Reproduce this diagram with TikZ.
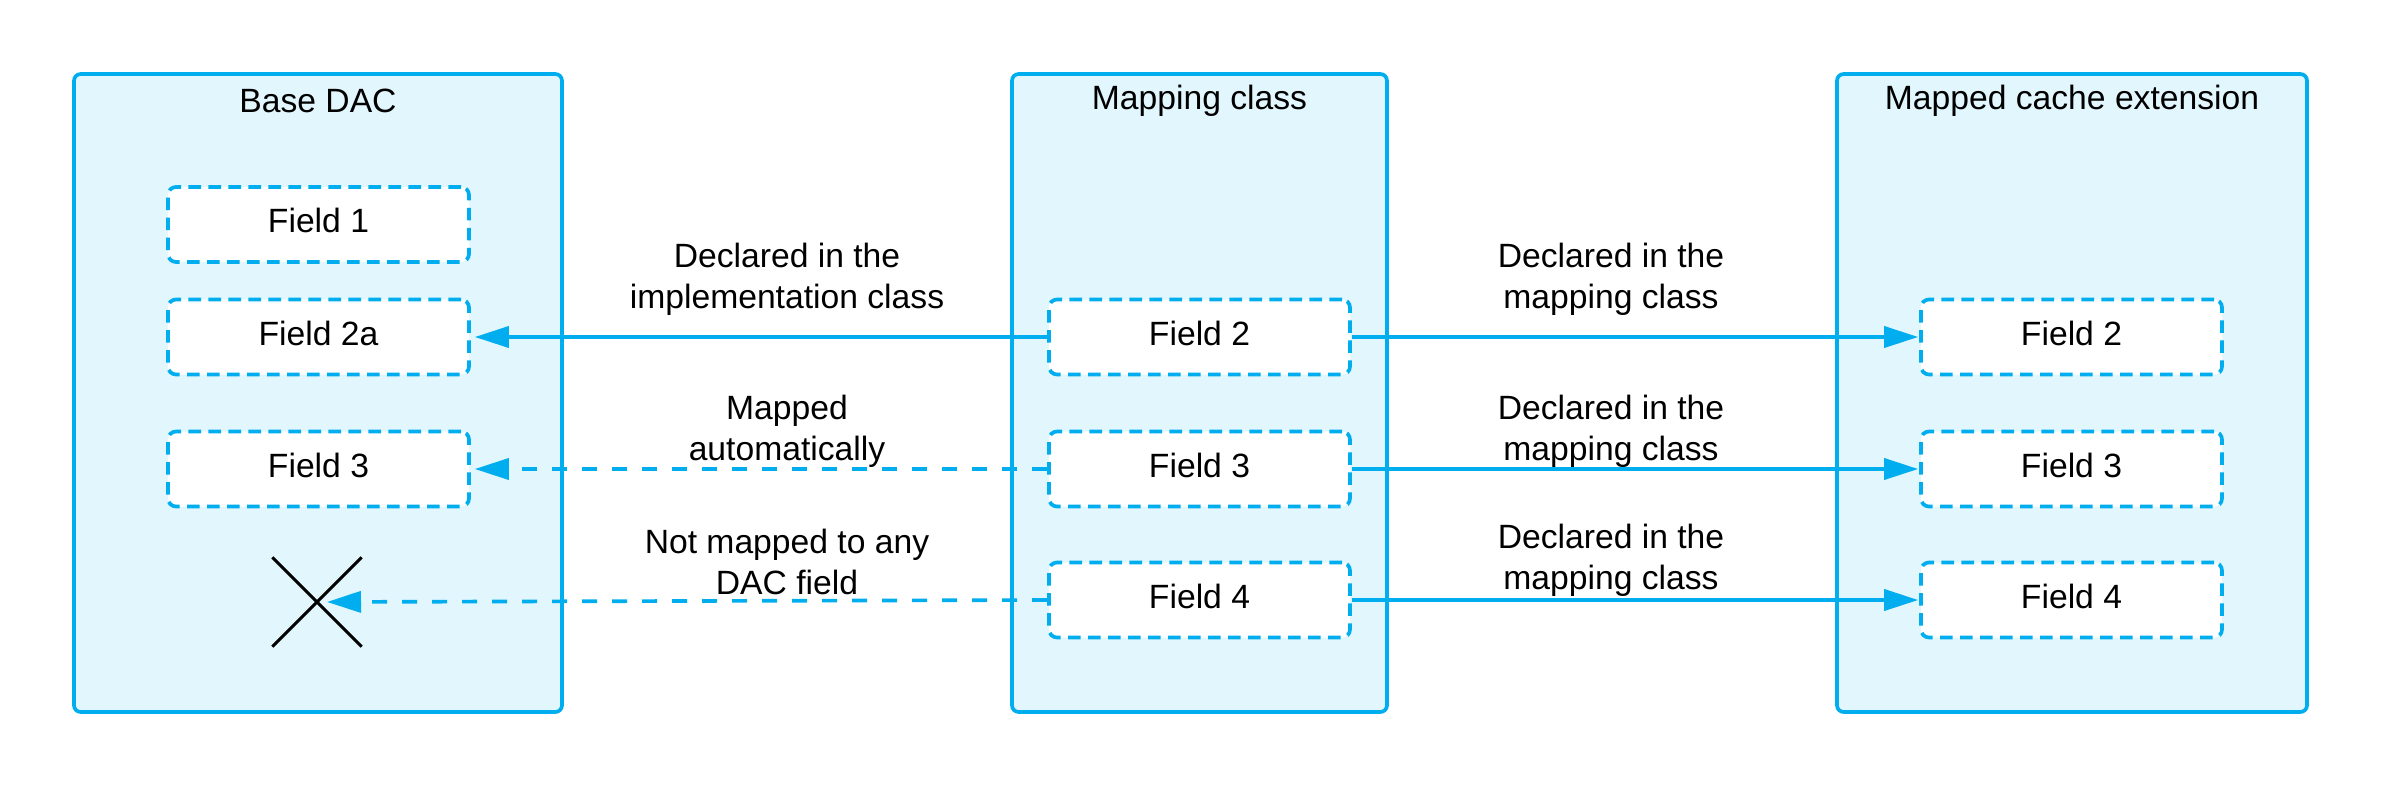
\documentclass[tikz,border=0pt]{standalone}
\usepackage{fontspec}
\setmainfont{Liberation Sans}
\usetikzlibrary{arrows.meta}
\definecolor{cyanb}{RGB}{0,174,239}
\definecolor{cfill}{RGB}{226,246,254}
\begin{document}
\begin{tikzpicture}[x=0.3pt,y=-0.3pt,
  every node/.style={font=\fontsize{10.1}{12.3}\selectfont},
  container/.style={draw=cyanb, fill=cfill, line width=1.1pt, rounded corners=2pt, inner sep=0, minimum height=191.4pt},
  field/.style={draw=cyanb, fill=white, line width=1.1pt, dash pattern=on 3.8pt off 2.2pt, rounded corners=2.4pt, minimum width=90.3pt, minimum height=22.5pt, inner sep=0, text height=7.5pt, text depth=2.6pt},
  title/.style={inner sep=0, anchor=center},
  lbl/.style={align=center, inner sep=0},
  conn/.style={draw=cyanb, line width=1.1pt, -{Triangle[length=10.2pt,width=6.3pt]}, shorten >=1.2pt},
  dconn/.style={conn, dash pattern=on 4.5pt off 4.5pt},
  crossmark/.style={minimum size=26.4pt, inner sep=0}
]
\useasboundingbox (0,0) rectangle (2381,788);
% containers
\node[container, minimum width=146.4pt] (base) at (318,393) {};
\node[container, minimum width=112.5pt] (map) at (1199.5,393) {};
\node[container, minimum width=141pt] (ext) at (2072,393) {};
\node[title] (tbase) at (318,101) {Base DAC};
\node[title] (tmap) at (1199.5,101) {Mapping class};
\node[title] (text) at (2072,101) {Mapped cache extension};
% left fields
\node[field] (l1) at (318.5,224.5) {Field 1};
\node[field] (l2) at (318.5,337) {Field 2a};
\node[field] (l3) at (318.5,469) {Field 3};
\node[crossmark] (x) at (317,602) {};
\draw[black, line width=0.9pt] (x.north west) -- (x.south east) (x.north east) -- (x.south west);
% middle fields
\node[field] (m2) at (1199.5,337) {Field 2};
\node[field] (m3) at (1199.5,469) {Field 3};
\node[field] (m4) at (1199.5,600) {Field 4};
% right fields
\node[field] (r2) at (2071.5,337) {Field 2};
\node[field] (r3) at (2071.5,469) {Field 3};
\node[field] (r4) at (2071.5,600) {Field 4};
% connectors
\draw[conn] (m2.west) -- (l2.east);
\draw[dconn] (m3.west) -- (l3.east);
\draw[dconn, shorten >=3pt] (m4.west) -- (x.center);
\draw[conn, shorten >=0.3pt] (m2.east) -- (r2.west);
\draw[conn, shorten >=0.3pt] (m3.east) -- (r3.west);
\draw[conn, shorten >=0.3pt] (m4.east) -- (r4.west);
% labels
\node[lbl] (a1) at (787,279) {Declared in the\\implementation class};
\node[lbl] (a2) at (787,431) {Mapped\\automatically};
\node[lbl] (a3) at (787,562) {Not mapped to any\\DAC field};
\node[lbl] (b1) at (1611,279) {Declared in the\\mapping class};
\node[lbl] (b2) at (1611,431) {Declared in the\\mapping class};
\node[lbl] (b3) at (1611,560) {Declared in the\\mapping class};
\end{tikzpicture}
\end{document}
